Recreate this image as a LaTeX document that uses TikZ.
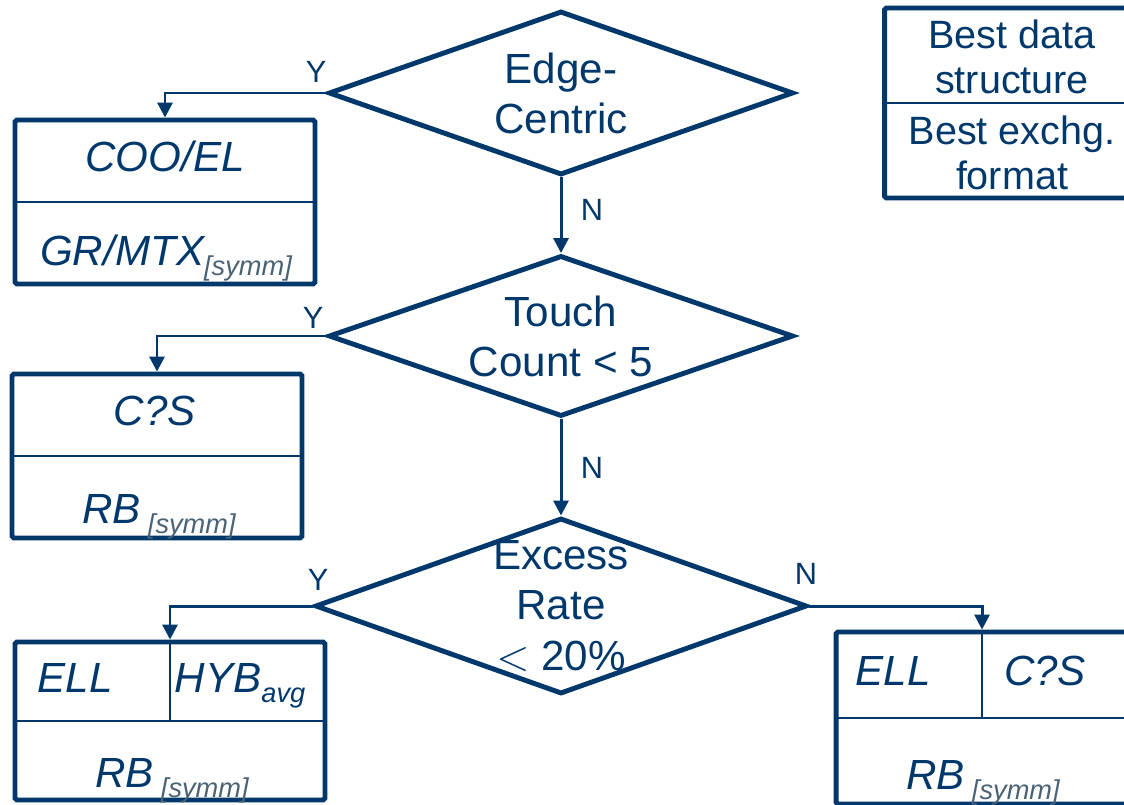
\documentclass[tikz,border=0pt]{standalone}
\usepackage{fontspec}
\setmainfont{Liberation Sans}
\usepackage{xcolor}
\usetikzlibrary{arrows.meta,shapes.geometric}
\definecolor{navy}{HTML}{00386C}
\definecolor{subgray}{HTML}{4A6275}
\newcommand{\lowtxt}[2][subgray]{\raisebox{-6pt}{\fontsize{15.5}{15.5}\selectfont\itshape\color{#1}#2}}
\tikzset{
  decide/.style={diamond, draw=navy, line width=2.8pt, inner sep=0pt},
  ask/.style={text=navy, align=center, font=\fontsize{24}{28.5}\selectfont},
  fmtbox/.style={draw=navy, line width=2.8pt, rounded corners=1pt, inner sep=0pt},
  fmt/.style={text=navy, font=\fontsize{24}{28.5}\selectfont\itshape, anchor=base, inner sep=0pt},
  legend/.style={text=navy, align=center, font=\fontsize{22.5}{26}\selectfont},
  yn/.style={text=navy, font=\fontsize{17.5}{20}\selectfont},
  link/.style={draw=navy, line width=1.7pt, -{Triangle[length=0.3cm,width=0.3cm]}},
  split/.style={draw=navy, line width=1.1pt}
}
\begin{document}
\begin{tikzpicture}[x=0.02cm,y=-0.02cm]
    \useasboundingbox (0,0) rectangle (1124,804);
    \clip (0,0) rectangle (1124,804);

    % Decisions
    \node[decide, minimum width=9.3cm, minimum height=3.28cm] (edge) at (561,93) {};
    \node[ask] (edgetxt) at (edge) {Edge-\\Centric};
    \node[decide, minimum width=9.3cm, minimum height=3.22cm] (touch) at (561,336) {};
    \node[ask] (touchtxt) at (touch) {Touch\\Count < 5};
    \node[decide, minimum width=9.84cm, minimum height=3.52cm] (excess) at (561,606) {};
    \node[ask] (excesstxt) at (excess) {Excess\\Rate\\$<$ 20\%};

    % Formats
    \node[fmtbox, minimum width=6cm, minimum height=3.28cm] (coo) at (165,202) {};
    \draw[split] (coo.west) -- (coo.east);
    \node[fmt] (cootop) at (165,172) {COO/EL};
    \node[fmt] (coobot) at (166,265) {GR/MTX\lowtxt{[symm]}};

    \node[fmtbox, minimum width=5.8cm, minimum height=3.28cm] (csr) at (157,456) {};
    \draw[split] (csr.west) -- (csr.east);
    \node[fmt] (csrtop) at (155,425) {C?S};
    \node[fmt] (csrbot) at (159,523) {RB\,\lowtxt{[symm]}};

    \node[fmtbox, minimum width=6.2cm, minimum height=3.16cm] (ellhyb) at (170,721) {};
    \draw[split] (ellhyb.west) -- (ellhyb.east);
    \draw[split] (ellhyb.north) -- (ellhyb.center);
    \node[fmt] (ellA) at (75,692) {ELL};
    \node[fmt] (hyb) at (240,692) {HYB\lowtxt[navy]{avg}};
    \node[fmt] (ellhybbot) at (172,787) {RB\,\lowtxt{[symm]}};

    \node[fmtbox, minimum width=5.84cm, minimum height=3.44cm] (ellcsr) at (982,718) {};
    \draw[split] (ellcsr.west) -- (ellcsr.east);
    \draw[split] (ellcsr.north) -- (ellcsr.center);
    \node[fmt] (ellB) at (893,685) {ELL};
    \node[fmt] (csrB) at (1045,685) {C?S};
    \node[fmt] (ellcsrbot) at (983,789) {RB\,\lowtxt{[symm]}};

    % Legend
    \node[fmtbox, minimum width=5.1cm, minimum height=3.8cm] (key) at (1012,103) {};
    \draw[split] (key.west) -- (key.east);
    \node[legend] (keytop) at (1012,57) {Best data\\structure};
    \node[legend] (keybot) at (1012,153) {Best exchg.\\format};

    % Branches
    \draw[link] (edge.west) -| (coo.north);
    \draw[link] (edge.south) -- (touch.north);
    \draw[link] (touch.west) -| (csr.north);
    \draw[link] (touch.south) -- (excess.north);
    \draw[link] (excess.west) -| (ellhyb.north);
    \draw[link] (excess.east) -| (ellcsr.north);
    \node[yn] (y1) at (316,72) {Y};
    \node[yn] (n1) at (592,210) {N};
    \node[yn] (y2) at (313,318) {Y};
    \node[yn] (n2) at (592,468) {N};
    \node[yn] (y3) at (318,580) {Y};
    \node[yn] (n3) at (806,574) {N};
\end{tikzpicture}
\end{document}
